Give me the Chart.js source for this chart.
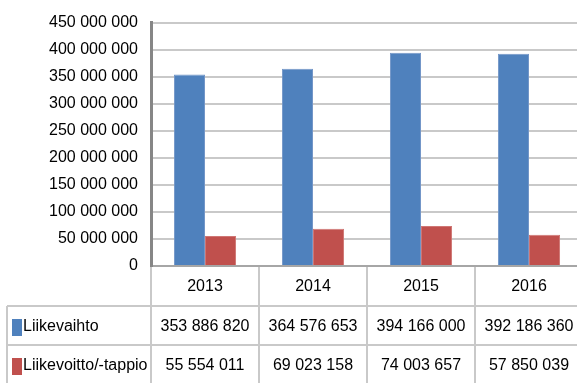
<!DOCTYPE html>
<html>
<head>
<meta charset="utf-8">
<script src="https://cdn.jsdelivr.net/npm/chart.js@4"></script>
<style>
  html, body { margin: 0; padding: 0; background: #fff; overflow: hidden; }
  #wrap { width: 577px; height: 383px; overflow: hidden; }
</style>
</head>
<body>
<div id="wrap"><canvas id="chart" width="590" height="383"></canvas></div>
<script>
const years = ["2013", "2014", "2015", "2016"];
const seriesNames = ["Liikevaihto", "Liikevoitto/-tappio"];
const liikevaihto = [353886820, 364576653, 394166000, 392186360];
const liikevoitto = [55554011, 69023158, 74003657, 57850039];
const colors = ["#4f81bd", "#c0504d"];

const FONT = "'Liberation Sans', Arial, sans-serif";
const LINE = "#c9c9c9";

function fmt(n) {
  return String(n).replace(/\B(?=(\d{3})+(?!\d))/g, " ");
}

// data table under the chart
const dataTable = {
  id: "dataTable",
  afterDraw(chart) {
    const ctx = chart.ctx;
    const x = chart.scales.x;
    const area = chart.chartArea;
    const w = (x.right - x.left) / years.length;
    const rowTop = [306, 345];
    const rowH = 38;
    const bottom = chart.height;

    ctx.save();
    ctx.strokeStyle = LINE;
    ctx.lineWidth = 2;
    ctx.beginPath();
    for (let i = 0; i <= years.length; i++) {
      const px = Math.round(x.left + i * w);
      ctx.moveTo(px, area.bottom + 1);
      ctx.lineTo(px, bottom);
    }
    rowTop.forEach(y => {
      ctx.moveTo(7, y);
      ctx.lineTo(chart.width, y);
    });
    ctx.moveTo(7, rowTop[0]);
    ctx.lineTo(7, bottom);
    ctx.stroke();

    const rows = [liikevaihto, liikevoitto];
    ctx.font = "16px " + FONT;
    ctx.textBaseline = "middle";
    rows.forEach((vals, r) => {
      const cy = rowTop[r] + rowH / 2 + 2;
      ctx.fillStyle = colors[r];
      ctx.fillRect(12, cy - 8, 10, 17);
      ctx.fillStyle = "#000";
      ctx.textAlign = "left";
      ctx.fillText(seriesNames[r], 23, cy);
      ctx.textAlign = "center";
      vals.forEach((v, i) => {
        ctx.fillText(fmt(v), x.getPixelForValue(i), cy);
      });
    });
    ctx.restore();
  }
};

new Chart(document.getElementById("chart"), {
  type: "bar",
  data: {
    labels: years,
    datasets: [
      { label: seriesNames[0], data: liikevaihto, backgroundColor: colors[0], borderColor: "#7396c8", borderWidth: 1 },
      { label: seriesNames[1], data: liikevoitto, backgroundColor: colors[1], borderColor: "#cf7674", borderWidth: 1 }
    ]
  },
  options: {
    responsive: false,
    animation: false,
    layout: { padding: { left: 0, right: 7, top: 21, bottom: 77 } },
    datasets: { bar: { categoryPercentage: 0.575, barPercentage: 1 } },
    plugins: { legend: { display: false }, tooltip: { enabled: false } },
    scales: {
      x: {
        grid: { display: false, drawTicks: false },
        border: { display: false },
        ticks: { color: "#000", font: { family: FONT, size: 16 }, padding: 11 },
        afterFit: s => { s.height = 40; }
      },
      y: {
        min: 0,
        max: 450000000,
        ticks: {
          stepSize: 50000000,
          color: "#000",
          font: { family: FONT, size: 16 },
          padding: 13,
          callback: v => fmt(v)
        },
        grid: {
          drawTicks: false,
          lineWidth: 2,
          color: c => c.tick && c.tick.value === 0 ? "#a6a6a6" : LINE
        },
        border: { color: "#868686", width: 3 },
        afterFit: s => { s.width = 151; }
      }
    }
  },
  plugins: [dataTable]
});
</script>
</body>
</html>
